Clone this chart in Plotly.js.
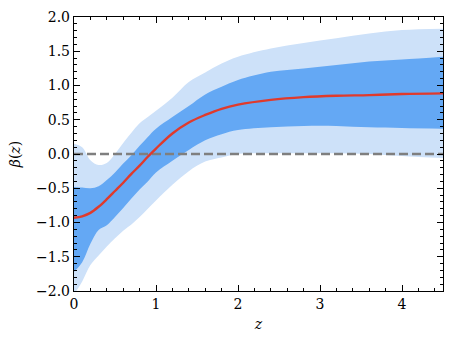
<!DOCTYPE html>
<html>
<head>
<meta charset="utf-8">
<script src="https://cdn.plot.ly/plotly-3.0.1.min.js"></script>
<style>
  body { margin: 0; padding: 0; background: #fff; }
  #plot { width: 454px; height: 345px; }
</style>
</head>
<body>
<div id="plot"></div>
<script>
// redshift grid
var z = [0, 0.1, 0.2, 0.3, 0.4, 0.5, 0.6, 0.7, 0.8, 0.9, 1.0, 1.2, 1.4, 1.6, 1.8, 2.0, 2.4, 2.8, 3.2, 3.6, 4.0, 4.5];

// median beta(z)
var median = [-0.93, -0.91, -0.86, -0.77, -0.66, -0.54, -0.42, -0.29, -0.17, -0.04, 0.08, 0.30, 0.46, 0.57, 0.66, 0.72, 0.79, 0.83, 0.85, 0.86, 0.875, 0.885];

// inner band (1 sigma)
var innerHi = [-0.48, -0.49, -0.50, -0.47, -0.38, -0.27, -0.14, -0.02, 0.12, 0.25, 0.37, 0.54, 0.70, 0.87, 0.98, 1.08, 1.20, 1.25, 1.30, 1.35, 1.38, 1.42];
var innerLo = [-1.72, -1.58, -1.31, -1.11, -1.04, -0.92, -0.79, -0.65, -0.52, -0.40, -0.27, -0.10, 0.06, 0.20, 0.29, 0.35, 0.39, 0.41, 0.41, 0.39, 0.38, 0.37];

// outer band (2 sigma)
var outerHi = [0.15, 0.10, -0.09, -0.16, -0.13, 0.0, 0.16, 0.31, 0.45, 0.54, 0.63, 0.82, 1.05, 1.19, 1.32, 1.42, 1.54, 1.62, 1.69, 1.76, 1.81, 1.83];
var outerLo = [-2.05, -1.86, -1.62, -1.48, -1.35, -1.23, -1.12, -1.03, -0.92, -0.80, -0.68, -0.45, -0.25, -0.11, -0.05, 0.0, 0.01, 0.01, 0.01, 0.0, -0.03, -0.06];

var zeroLine = z.map(function () { return 0; });

var traces = [
  {x: z, y: outerLo, mode: "lines", line: {width: 0, shape: "spline"}},
  {x: z, y: outerHi, mode: "lines", line: {width: 0, shape: "spline"}, fill: "tonexty", fillcolor: "#cde1f9"},
  {x: z, y: innerLo, mode: "lines", line: {width: 0, shape: "spline"}},
  {x: z, y: innerHi, mode: "lines", line: {width: 0, shape: "spline"}, fill: "tonexty", fillcolor: "#64a8f4"},
  {x: z, y: zeroLine, mode: "lines", line: {color: "#7f7f7f", width: 2.4, dash: "9px,4px"}},
  {x: z, y: median, mode: "lines", line: {color: "#e03a2c", width: 2.4, shape: "spline"}}
];

var serif = "DejaVu Serif";
var font = {family: serif, size: 14, color: "#000"};

var layout = {
  width: 454,
  height: 345,
  margin: {l: 74, r: 11, t: 17, b: 54},
  showlegend: false,
  paper_bgcolor: "#fff",
  plot_bgcolor: "#fff",
  font: font,
  xaxis: {
    range: [0, 4.5],
    dtick: 1,
    tick0: 0,
    ticks: "inside",
    ticklen: 6,
    tickcolor: "#000",
    tickfont: font,
    mirror: "allticks",
    showline: true,
    linecolor: "#000",
    linewidth: 1.2,
    showgrid: false,
    zeroline: false,
    minor: {dtick: 0.2, ticks: "inside", ticklen: 3, tickcolor: "#000"},
    title: {text: "<i>z</i>", standoff: 8, font: font}
  },
  yaxis: {
    range: [-2, 2],
    dtick: 0.5,
    tick0: 0,
    tickformat: ".1f",
    ticks: "inside",
    ticklen: 6,
    tickcolor: "#000",
    tickfont: font,
    mirror: "allticks",
    showline: true,
    linecolor: "#000",
    linewidth: 1.2,
    showgrid: false,
    zeroline: false,
    minor: {dtick: 0.1, ticks: "inside", ticklen: 3, tickcolor: "#000"},
    title: {text: "<i>β</i>(<i>z</i>)", standoff: 12, font: font}
  }
};

Plotly.newPlot("plot", traces, layout, {displayModeBar: false, staticPlot: true}).then(function (gd) {
  // force the serif face on every svg text node
  gd.querySelectorAll("text, tspan").forEach(function (t) {
    t.style.setProperty("font-family", "'" + serif + "', serif", "important");
    t.setAttribute("font-family", serif);
  });
});
</script>
</body>
</html>
